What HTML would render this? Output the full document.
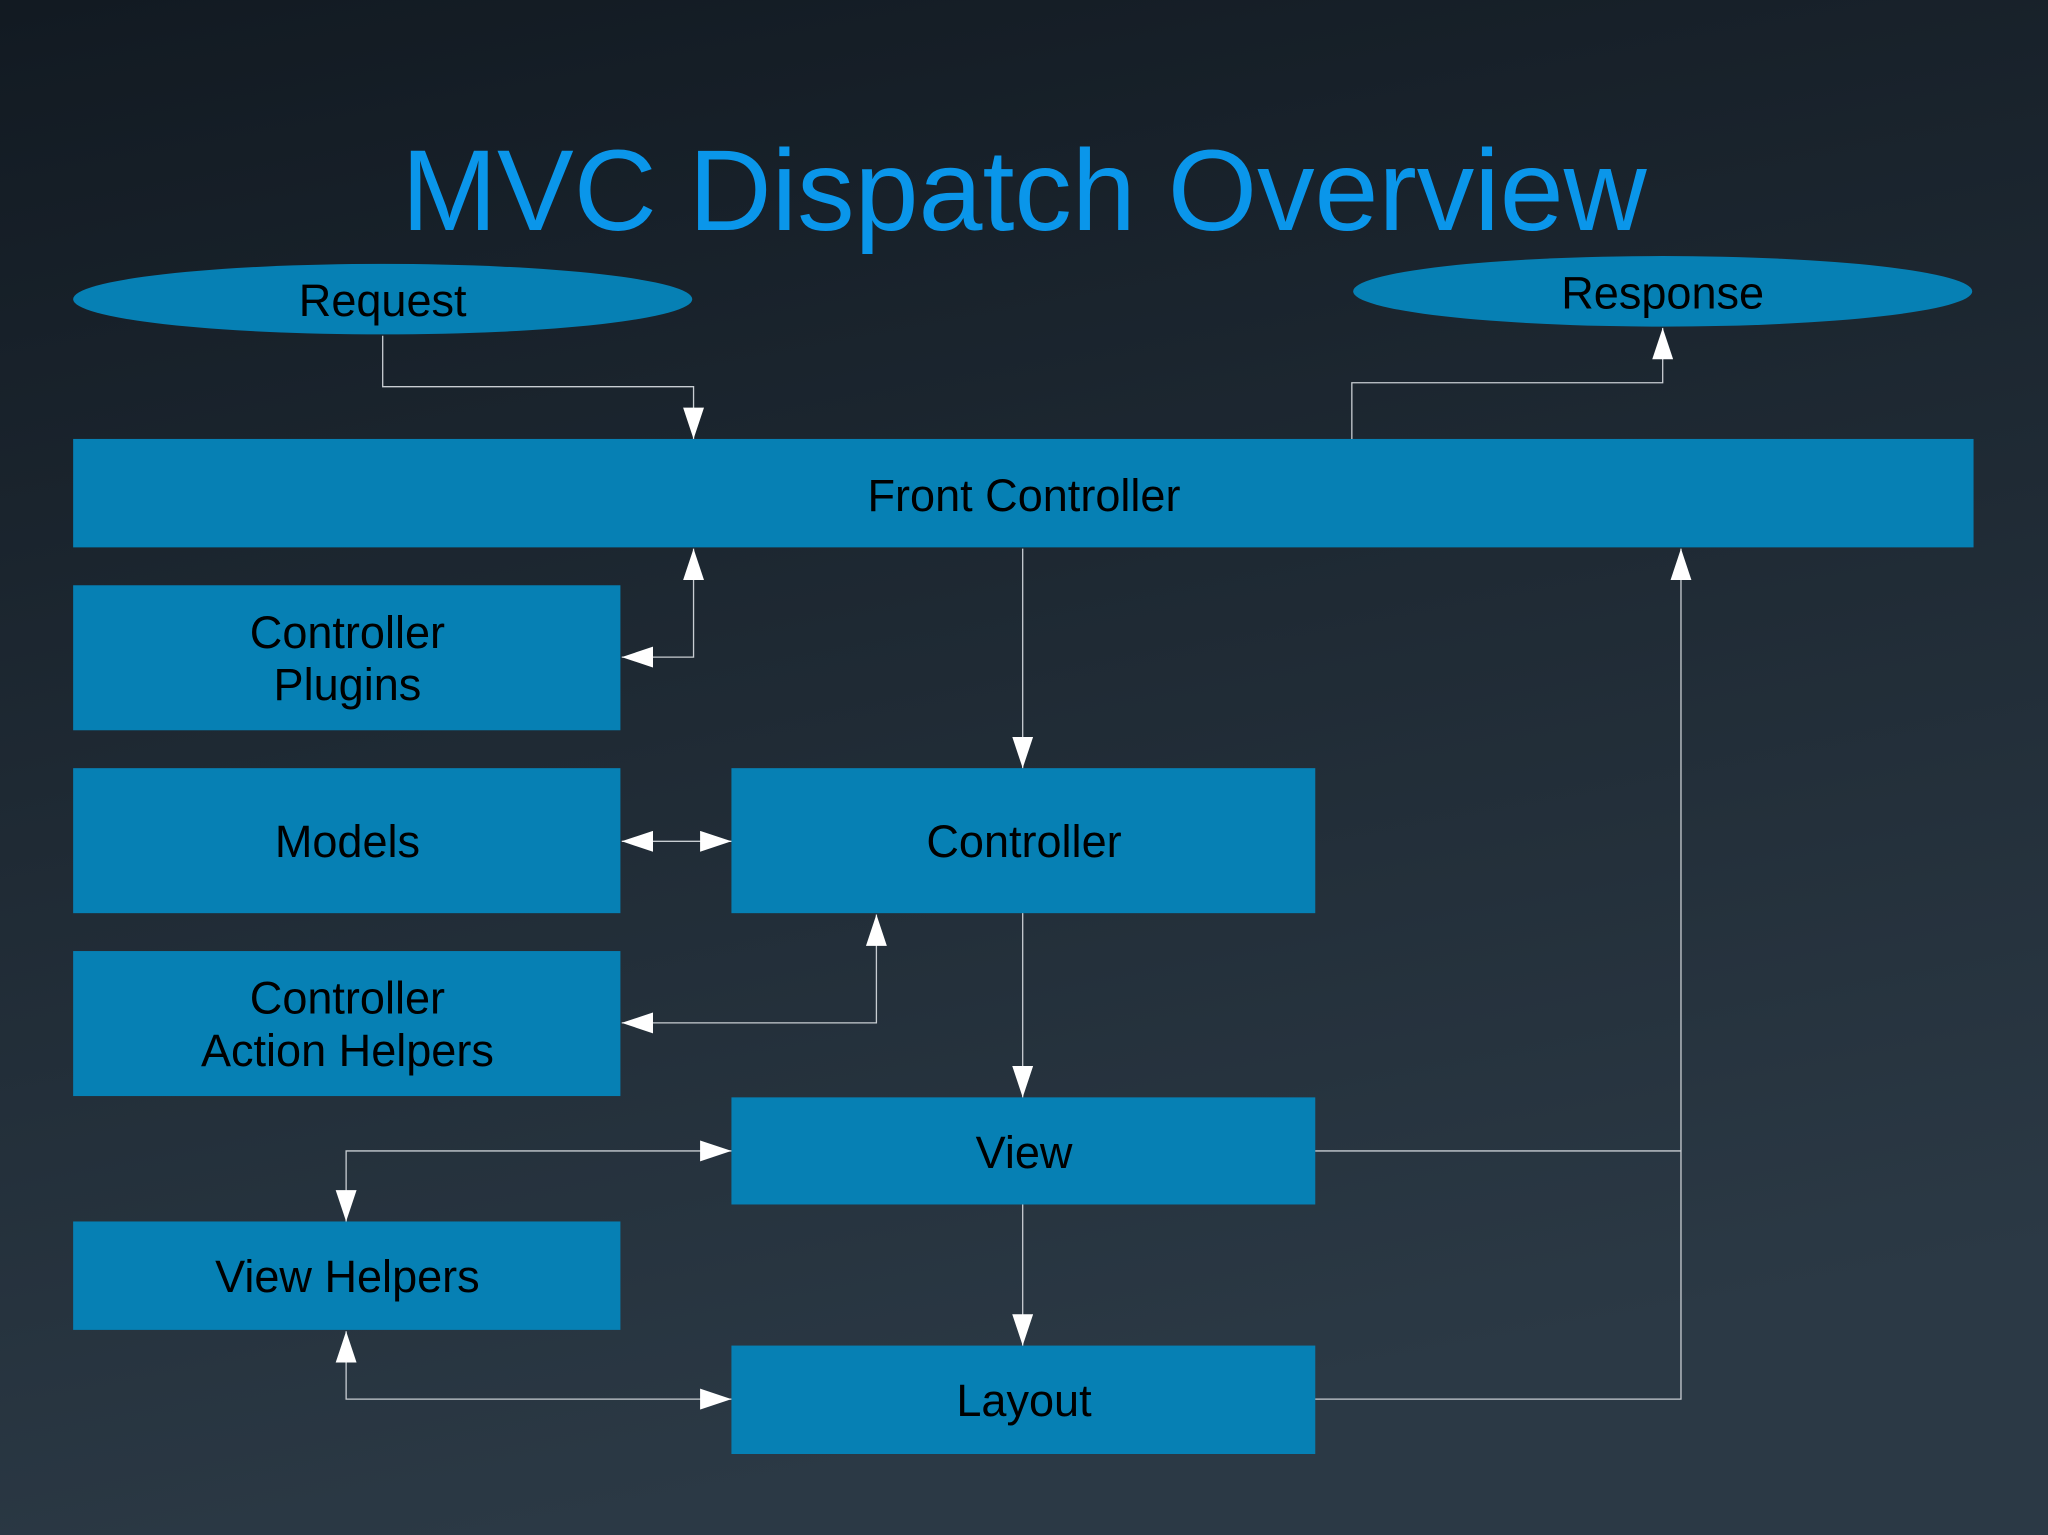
<!DOCTYPE html>
<html><head><meta charset="utf-8"><style>
html,body{margin:0;padding:0;width:2048px;height:1535px;overflow:hidden;background:#1c2630}
svg{display:block}
text{font-family:"Liberation Sans",Arial,sans-serif}
</style></head><body>
<svg width="2048" height="1535" viewBox="0 0 1568 1175" preserveAspectRatio="none" xmlns="http://www.w3.org/2000/svg">
<defs>
<linearGradient id="bg" x1="0" y1="0" x2="0.25" y2="1">
<stop offset="0" stop-color="#121a22"/><stop offset="1" stop-color="#2b3945"/>
</linearGradient>
<marker id="a" viewBox="0 0 24 16" refX="24" refY="8" markerWidth="24" markerHeight="16" markerUnits="userSpaceOnUse" orient="auto-start-reverse">
<path d="M0,0 L24,8 L0,16 z" fill="#fff"/></marker>
</defs>
<rect width="1568" height="1175" fill="url(#bg)"/>
<text x="784" y="176" text-anchor="middle" font-size="88" fill="#0a96ea">MVC Dispatch Overview</text>
<g fill="#0680b4">
<ellipse cx="293" cy="229" rx="237" ry="27"/>
<ellipse cx="1273" cy="223" rx="237" ry="27"/>
<rect x="56" y="336" width="1455" height="83"/>
<rect x="56" y="448" width="419" height="111"/>
<rect x="56" y="588" width="419" height="111"/>
<rect x="56" y="728" width="419" height="111"/>
<rect x="56" y="935" width="419" height="83"/>
<rect x="560" y="588" width="447" height="111"/>
<rect x="560" y="840" width="447" height="82"/>
<rect x="560" y="1030" width="447" height="83"/>
</g>
<g font-size="34.5" fill="#000" text-anchor="middle">
<text x="293" y="242">Request</text>
<text x="1273" y="236">Response</text>
<text x="784" y="391">Front Controller</text>
<text x="266" y="496">Controller</text>
<text x="266" y="536">Plugins</text>
<text x="266" y="656">Models</text>
<text x="266" y="776">Controller</text>
<text x="266" y="816">Action Helpers</text>
<text x="266" y="989">View Helpers</text>
<text x="784" y="656">Controller</text>
<text x="784" y="894">View</text>
<text x="784" y="1084">Layout</text>
</g>
<g fill="none" stroke="#c8cdd2" stroke-width="1">
<path d="M293,257 V296 H531 V336" marker-end="url(#a)"/>
<path d="M1035,336 V293 H1273 V251" marker-end="url(#a)"/>
<path d="M531,420 V503 H476" marker-start="url(#a)" marker-end="url(#a)"/>
<path d="M783,420 V588" marker-end="url(#a)"/>
<path d="M476,644 H560" marker-start="url(#a)" marker-end="url(#a)"/>
<path d="M476,783 H671 V700" marker-start="url(#a)" marker-end="url(#a)"/>
<path d="M783,699 V840" marker-end="url(#a)"/>
<path d="M560,881 H265 V935" marker-start="url(#a)" marker-end="url(#a)"/>
<path d="M783,922 V1030" marker-end="url(#a)"/>
<path d="M265,1019 V1071 H560" marker-start="url(#a)" marker-end="url(#a)"/>
<path d="M1007,881 H1287"/>
<path d="M1007,1071 H1287 V420" marker-end="url(#a)"/>
</g>
</svg>
</body></html>
